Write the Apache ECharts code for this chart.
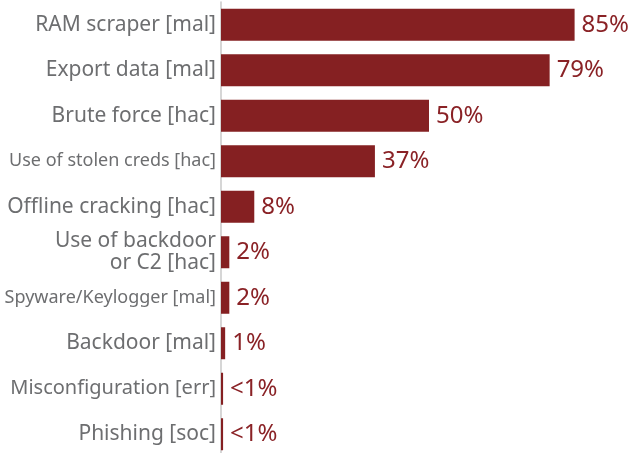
<!DOCTYPE html>
<html>
<head>
<meta charset="utf-8">
<script src="https://cdn.jsdelivr.net/npm/echarts@6/dist/echarts.min.js"></script>
<style>
  html, body { margin: 0; padding: 0; background: #fff; }
  #chart { width: 633px; height: 453px; }
</style>
</head>
<body>
<div id="chart"></div>
<script>
// 类目（从上到下）
const categories = [
  'RAM scraper [mal]',
  'Export data [mal]',
  'Brute force [hac]',
  'Use of stolen creds [hac]',
  'Offline cracking [hac]',
  'Use of backdoor\nor C2 [hac]',
  'Spyware/Keylogger [mal]',
  'Backdoor [mal]',
  'Misconfiguration [err]',
  'Phishing [soc]'
]
const values = [85, 79, 50, 37, 8, 2, 2, 1, 0.5, 0.5]
const valueLabels = ['85%', '79%', '50%', '37%', '8%', '2%', '2%', '1%', '<1%', '<1%']
// 原图里被压窄的长标签
const narrowLabels = ['Use of stolen creds [hac]', 'Spyware/Keylogger [mal]']
const midLabels = ['Misconfiguration [err]']

const barColor = '#852022'
const textColor = '#8a2226'
const grayColor = '#6d6e70'

const myChart = echarts.init(document.getElementById('chart'))
const option = {
  animation: false,
  grid: {
    left: 221,
    top: 2,
    width: 416,
    height: 455,
    outerBoundsMode: 'none'
  },
  xAxis: {
    type: 'value',
    min: 0,
    max: 100,
    show: false
  },
  yAxis: {
    type: 'category',
    inverse: true,
    data: categories,
    axisLine: {
      show: true,
      lineStyle: { color: '#c8c8c8', width: 1.5 }
    },
    axisTick: { show: false },
    axisLabel: {
      color: grayColor,
      fontFamily: 'Noto Sans',
      fontSize: 21,
      lineHeight: 22,
      margin: 5,
      align: 'right',
      formatter: (v) => {
        if (narrowLabels.includes(v)) return '{n|' + v + '}'
        if (midLabels.includes(v)) return '{m|' + v + '}'
        return v
      },
      rich: {
        n: { color: grayColor, fontFamily: 'Noto Sans', fontSize: 18 },
        m: { color: grayColor, fontFamily: 'Noto Sans', fontSize: 20 }
      }
    }
  },
  series: [
    {
      type: 'bar',
      data: values,
      barWidth: 32,
      itemStyle: { color: barColor },
      label: {
        show: true,
        position: 'right',
        distance: 7,
        color: textColor,
        fontFamily: 'Noto Sans',
        fontSize: 24,
        formatter: (p) => valueLabels[p.dataIndex]
      }
    }
  ]
}
option && myChart.setOption(option)
</script>
</body>
</html>
